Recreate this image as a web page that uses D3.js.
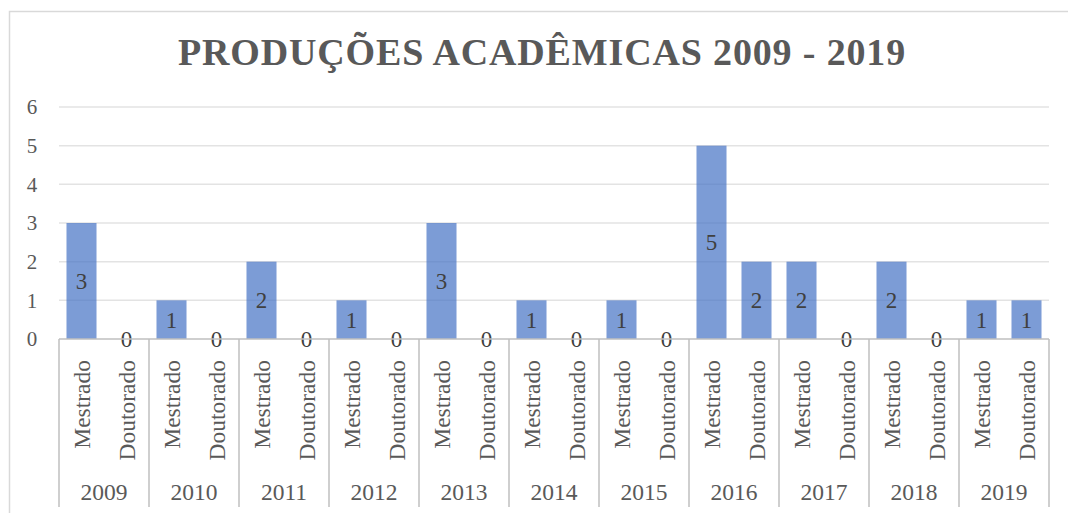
<!DOCTYPE html>
<html>
<head>
<meta charset="utf-8">
<script src="https://cdn.jsdelivr.net/npm/d3@7"></script>
<style>
  body { margin: 0; background: #fff; }
  svg { display: block; }
  svg text { font-family: "Liberation Serif", "Times New Roman", serif; }
</style>
</head>
<body>
<div id="chart"></div>
<script>
// years and the two kinds of production
const years = ['2009', '2010', '2011', '2012', '2013', '2014', '2015', '2016', '2017', '2018', '2019'];
const kinds = ['Mestrado', 'Doutorado'];
const mestrado = [3, 1, 2, 1, 3, 1, 1, 5, 2, 2, 1];
const doutorado = [0, 0, 0, 0, 0, 0, 0, 2, 0, 0, 1];
const yTicks = [0, 1, 2, 3, 4, 5, 6];

const width = 1068, height = 513;
const margin = { top: 107, right: 19, bottom: 174, left: 59 };

const svg = d3.select('#chart').append('svg')
    .attr('width', width)
    .attr('height', height);

// chart frame
svg.append('rect')
    .attr('x', 9.5).attr('y', 11.5)
    .attr('width', 1080).attr('height', 520)
    .attr('fill', 'none')
    .attr('stroke', '#d9d9d9')
    .attr('stroke-width', 1.5);

svg.append('text')
    .attr('x', 542)
    .attr('y', 65)
    .attr('text-anchor', 'middle')
    .attr('font-size', '38px')
    .attr('font-weight', 'bold')
    .attr('fill', '#595959')
    .attr('letter-spacing', '0.85px')
    .text('PRODUÇÕES ACADÊMICAS 2009 - 2019');

const plotW = width - margin.left - margin.right;
const plotH = height - margin.top - margin.bottom;
const g = svg.append('g').attr('transform', `translate(${margin.left},${margin.top})`);

const x0 = d3.scaleBand().domain(years).range([0, plotW]);
const x1 = d3.scaleBand().domain(kinds).range([0, x0.bandwidth()]).paddingInner(0.333).paddingOuter(0.1665);
const y = d3.scaleLinear().domain([0, 6]).range([plotH, 0]);

// gridlines
g.selectAll('.grid')
    .data(yTicks.filter(t => t > 0))
    .join('line')
    .attr('class', 'grid')
    .attr('x1', 0).attr('x2', plotW)
    .attr('y1', d => y(d)).attr('y2', d => y(d))
    .attr('stroke', '#e3e3e3')
    .attr('stroke-width', 1.5);

// y tick labels
g.selectAll('.ytick')
    .data(yTicks)
    .join('text')
    .attr('class', 'ytick')
    .attr('x', -27)
    .attr('y', d => y(d))
    .attr('dy', '0.35em')
    .attr('text-anchor', 'middle')
    .attr('font-size', '21px')
    .attr('fill', '#595959')
    .text(d => d);

const rows = years.map((yr, i) => ({ year: yr, values: [
    { kind: 'Mestrado', value: mestrado[i] },
    { kind: 'Doutorado', value: doutorado[i] }
] }));

const groups = g.selectAll('.year')
    .data(rows)
    .join('g')
    .attr('class', 'year')
    .attr('transform', d => `translate(${x0(d.year)},0)`);

groups.selectAll('rect')
    .data(d => d.values)
    .join('rect')
    .attr('x', d => x1(d.kind))
    .attr('y', d => y(d.value))
    .attr('width', x1.bandwidth())
    .attr('height', d => plotH - y(d.value))
    .attr('fill', '#4472c4')
    .attr('fill-opacity', 0.7);

// category axis
g.append('line')
    .attr('x1', 0).attr('x2', plotW)
    .attr('y1', plotH).attr('y2', plotH)
    .attr('stroke', '#bfbfbf')
    .attr('stroke-width', 1.5);

g.selectAll('.sep')
    .data(years.concat(['end']))
    .join('line')
    .attr('class', 'sep')
    .attr('x1', (d, i) => i * x0.bandwidth())
    .attr('x2', (d, i) => i * x0.bandwidth())
    .attr('y1', plotH).attr('y2', plotH + 168)
    .attr('stroke', '#bfbfbf')
    .attr('stroke-width', 1.5);

// data labels, centered in the bar
groups.selectAll('.lbl')
    .data(d => d.values)
    .join('text')
    .attr('class', 'lbl')
    .attr('x', d => x1(d.kind) + x1.bandwidth() / 2)
    .attr('y', d => (y(d.value) + plotH) / 2)
    .attr('dy', '0.35em')
    .attr('text-anchor', 'middle')
    .attr('font-size', '23px')
    .attr('fill', '#404040')
    .text(d => d.value);

// kind labels, rotated
groups.selectAll('.kind')
    .data(d => d.values)
    .join('text')
    .attr('class', 'kind')
    .attr('transform', d => `translate(${x1(d.kind) + x1.bandwidth() / 2 + 8},${plotH + 21}) rotate(-90)`)
    .attr('text-anchor', 'end')
    .attr('font-size', '23.5px')
    .attr('fill', '#595959')
    .text(d => d.kind);

// year labels
groups.append('text')
    .attr('x', x0.bandwidth() / 2)
    .attr('y', plotH + 161)
    .attr('text-anchor', 'middle')
    .attr('font-size', '23.5px')
    .attr('fill', '#595959')
    .text(d => d.year);
</script>
</body>
</html>
